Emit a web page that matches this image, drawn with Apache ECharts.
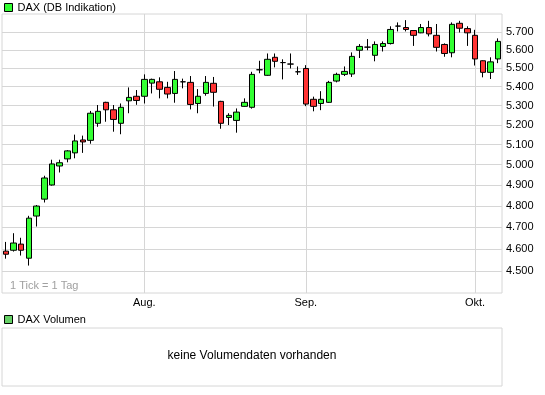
<!DOCTYPE html>
<html>
<head>
<meta charset="utf-8">
<script src="https://cdn.jsdelivr.net/npm/echarts@6/dist/echarts.min.js"></script>
<style>
html,body{margin:0;padding:0;background:#fff;}
#chart{width:545px;height:395px;}
</style>
</head>
<body>
<div id="chart"></div>
<script>
// Trading days (DAX, July 8 – October 6, 2009)
const dates = [
  '2009-07-08','2009-07-09','2009-07-10','2009-07-13','2009-07-14','2009-07-15','2009-07-16','2009-07-17',
  '2009-07-20','2009-07-21','2009-07-22','2009-07-23','2009-07-24','2009-07-27','2009-07-28','2009-07-29',
  '2009-07-30','2009-07-31',
  '2009-08-03','2009-08-04','2009-08-05','2009-08-06','2009-08-07','2009-08-10','2009-08-11','2009-08-12',
  '2009-08-13','2009-08-14','2009-08-17','2009-08-18','2009-08-19','2009-08-20','2009-08-21','2009-08-24',
  '2009-08-25','2009-08-26','2009-08-27','2009-08-28','2009-08-31',
  '2009-09-01','2009-09-02','2009-09-03','2009-09-04','2009-09-07','2009-09-08','2009-09-09','2009-09-10',
  '2009-09-11','2009-09-14','2009-09-15','2009-09-16','2009-09-17','2009-09-18','2009-09-21','2009-09-22',
  '2009-09-23','2009-09-24','2009-09-25','2009-09-28','2009-09-29','2009-09-30',
  '2009-10-01','2009-10-02','2009-10-05','2009-10-06'
];
const openVals = [
  4590,4594,4622,4558,4752,4832,4900,4993,5028,5058,5123,5121,5208,5317,5278,5208,5325,5349,5349,5419,
  5426,5396,5364,5426,5423,5311,5364,5418,5322,5238,5223,5296,5291,5491,5461,5559,5530,5522,5480,5498,
  5333,5311,5317,5430,5466,5468,5598,5615,5570,5619,5635,5733,5725,5708,5695,5725,5681,5630,5584,5749,
  5719,5681,5540,5477,5550
];
const closeVals = [
  4576,4627,4594,4742,4799,4934,5003,5009,5068,5118,5113,5260,5270,5278,5228,5291,5343,5327,5439,5439,
  5386,5361,5439,5426,5306,5349,5423,5370,5208,5249,5266,5317,5466,5491,5548,5537,5530,5522,5480,5308,
  5296,5333,5423,5466,5482,5564,5619,5615,5630,5635,5714,5733,5714,5681,5725,5689,5614,5580,5743,5721,
  5695,5550,5477,5534,5647
];
const highVals = [
  4632,4672,4651,4753,4804,4945,5024,5024,5072,5150,5145,5272,5303,5320,5303,5311,5396,5382,5466,5443,
  5450,5426,5484,5443,5457,5387,5457,5452,5325,5260,5285,5338,5480,5540,5580,5580,5548,5580,5509,5516,
  5347,5376,5431,5475,5509,5586,5632,5660,5647,5647,5732,5754,5767,5710,5745,5763,5745,5636,5754,5763,
  5732,5712,5542,5559,5664
];
const lowVals = [
  4556,4588,4570,4525,4703,4816,4897,4961,5011,5031,5058,5104,5190,5216,5165,5152,5260,5304,5311,5364,
  5338,5338,5315,5391,5280,5260,5352,5295,5180,5199,5160,5294,5284,5472,5458,5504,5439,5498,5463,5297,
  5270,5276,5314,5423,5457,5452,5555,5598,5537,5591,5630,5703,5703,5622,5693,5675,5591,5562,5559,5697,
  5622,5514,5450,5441,5527
];
const yTicks = [4500,4600,4700,4800,4900,5000,5100,5200,5300,5400,5500,5600,5700];
const monthNames = { '08': 'Aug.', '09': 'Sep.', '10': 'Okt.' };
const priceName = 'DAX (DB Indikation)';
const volumeName = 'DAX Volumen';
const tickNote = '1 Tick = 1 Tag';
const noVolumeText = 'keine Volumendaten vorhanden';

const FONT = 'Liberation Sans, Arial, sans-serif';

// indices of first trading day of each labelled month
const monthStartIdx = [];
dates.forEach((d, i) => {
  if (i > 0 && d.slice(5, 7) !== dates[i - 1].slice(5, 7) && monthNames[d.slice(5, 7)]) monthStartIdx.push(i);
});
const candleData = dates.map((d, i) => [openVals[i], closeVals[i], lowVals[i], highVals[i]]);

const fmtDe = v => Math.round(v).toString().replace(/\B(?=(\d{3})+(?!\d))/g, '.');

const chart = echarts.init(document.getElementById('chart'), null, { renderer: 'canvas' });
chart.setOption({
  animation: false,
  backgroundColor: '#fff',
  textStyle: { fontFamily: FONT },
  legend: [
    {
      left: 4, top: 2, padding: 0, itemWidth: 8, itemHeight: 8, icon: 'rect',
      selectedMode: false,
      textStyle: { fontSize: 11, color: '#000', fontFamily: FONT },
      data: [{ name: priceName, itemStyle: { color: '#33ff33', borderColor: '#000', borderWidth: 1 } }]
    },
    {
      left: 4, top: 314, padding: 0, itemWidth: 8, itemHeight: 8, icon: 'rect',
      selectedMode: false,
      textStyle: { fontSize: 11, color: '#000', fontFamily: FONT },
      data: [{ name: volumeName, itemStyle: { color: '#66d066', borderColor: '#000', borderWidth: 1 } }]
    }
  ],
  grid: [
    { left: 2, right: 43, top: 14, bottom: 102, show: true, borderColor: '#d6d6d6', borderWidth: 1, backgroundColor: 'transparent' },
    { left: 2, right: 43, top: 328, bottom: 9, show: true, borderColor: '#d6d6d6', borderWidth: 1, backgroundColor: 'transparent' }
  ],
  xAxis: [
    {
      type: 'category', gridIndex: 0, data: dates, boundaryGap: true,
      axisLine: { show: false }, axisTick: { show: false }, splitLine: { show: false },
      axisLabel: {
        show: true, margin: 4, fontSize: 11, color: '#000', fontFamily: FONT,
        interval: (idx) => monthStartIdx.indexOf(idx) >= 0,
        formatter: (v) => monthNames[v.slice(5, 7)] || ''
      }
    },
    {
      type: 'value', gridIndex: 0, min: -0.5, max: dates.length - 0.5,
      axisLine: { show: false }, axisLabel: { show: false },
      axisTick: { show: false, customValues: monthStartIdx },
      splitLine: { show: true, lineStyle: { color: '#d6d6d6', width: 1 } }
    },
    { type: 'value', gridIndex: 1, show: false }
  ],
  yAxis: [
    {
      type: 'log', logBase: 10, gridIndex: 0, position: 'right', min: 4404, max: 5802,
      axisLine: { show: false },
      axisTick: { show: false, customValues: yTicks },
      axisLabel: { show: true, customValues: yTicks, margin: 4, fontSize: 11, color: '#000', fontFamily: FONT, formatter: fmtDe },
      splitLine: { show: true, lineStyle: { color: '#d6d6d6', width: 1 } }
    },
    { type: 'value', gridIndex: 1, show: false }
  ],
  graphic: [
    { type: 'text', left: 10, top: 280, silent: true,
      style: { text: tickNote, fill: '#a0a0a0', font: '11px ' + FONT } },
    { type: 'text', x: 252, y: 356, silent: true,
      style: { text: noVolumeText, fill: '#000', font: '12px ' + FONT, textAlign: 'center', textVerticalAlign: 'middle' } }
  ],
  series: [
    {
      name: priceName, type: 'candlestick', xAxisIndex: 0, yAxisIndex: 0,
      data: candleData, barWidth: 6,
      itemStyle: { color: '#33ff33', color0: '#ff3333', borderColor: '#000', borderColor0: '#000', borderColorDoji: '#000', borderWidth: 1 },
      emphasis: { disabled: true }
    },
    {
      name: volumeName, type: 'line', xAxisIndex: 2, yAxisIndex: 1, data: [],
      itemStyle: { color: '#66d066' }
    }
  ]
});
</script>
</body>
</html>
